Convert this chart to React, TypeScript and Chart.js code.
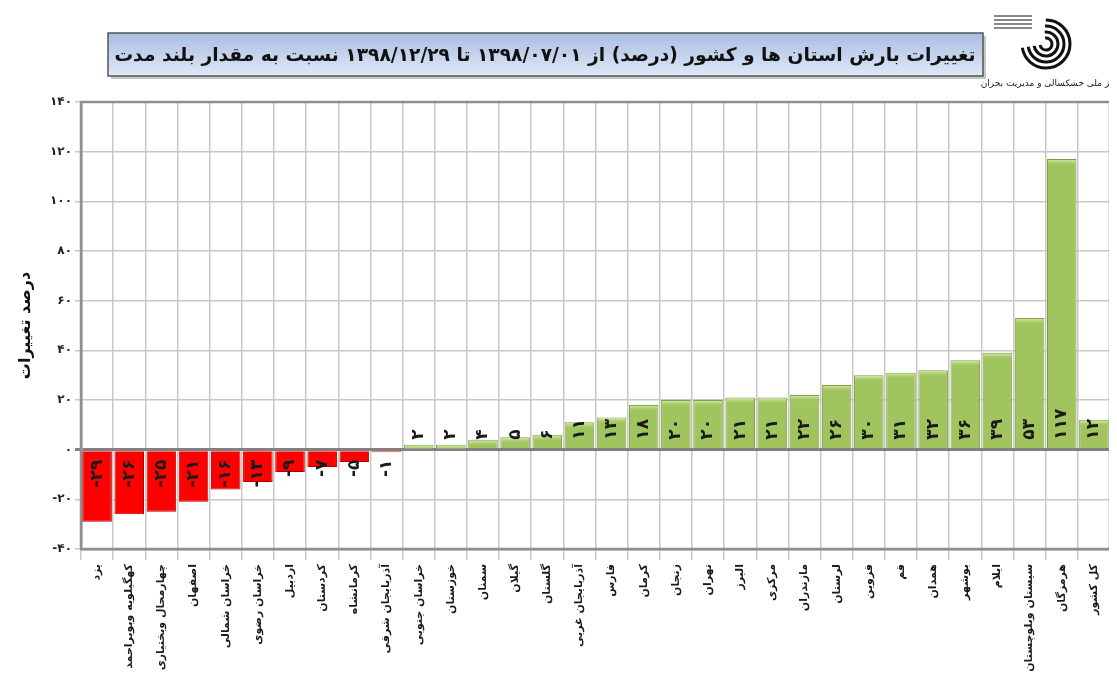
import React, { useEffect, useRef } from "react";
import { Chart, registerables } from "chart.js";

Chart.register(...registerables);

const categories = [
  "یزد",
  "کهگیلویه وبویراحمد",
  "چهارمحال وبختیاری",
  "اصفهان",
  "خراسان شمالی",
  "خراسان رضوی",
  "اردبیل",
  "کردستان",
  "کرمانشاه",
  "آذربایجان شرقی",
  "خراسان جنوبی",
  "خوزستان",
  "سمنان",
  "گیلان",
  "گلستان",
  "آذربایجان غربی",
  "فارس",
  "کرمان",
  "زنجان",
  "تهران",
  "البرز",
  "مرکزی",
  "مازندران",
  "لرستان",
  "قزوین",
  "قم",
  "همدان",
  "بوشهر",
  "ایلام",
  "سیستان وبلوچستان",
  "هرمزگان",
  "کل کشور",
];

const changePercent = [
  -29, -26, -25, -21, -16, -13, -9, -7, -5, -1, 2, 2, 4, 5, 6, 11, 13, 18, 20,
  20, 21, 21, 22, 26, 30, 31, 32, 36, 39, 53, 117, 12,
];

const yTickValues = [-40, -20, 0, 20, 40, 60, 80, 100, 120, 140];

const titleText =
  "تغییرات بارش استان ها و کشور (درصد) از ۱۳۹۸/۰۷/۰۱ تا ۱۳۹۸/۱۲/۲۹ نسبت به مقدار بلند مدت";
const yAxisTitle = "درصد تغییرات";
const orgName = "مرکز ملی خشکسالی و مدیریت بحران";

const FA_DIGITS = "۰۱۲۳۴۵۶۷۸۹";
const toFa = (v: number | string) =>
  String(v).replace(/\d/g, (d) => FA_DIGITS[Number(d)]);

const FONT = '"DejaVu Sans", sans-serif';

const decorPlugin = {
  id: "decor",
  beforeDraw(chart: any) {
    const ctx = chart.ctx;
    ctx.save();
    ctx.fillStyle = "#ffffff";
    ctx.fillRect(0, 0, chart.width, chart.height);

    // title box shadow
    ctx.fillStyle = "rgba(0,0,0,0.22)";
    ctx.fillRect(111, 36, 875, 43);
    // title box
    const g = ctx.createLinearGradient(0, 33, 0, 76);
    g.addColorStop(0, "#a9bde2");
    g.addColorStop(1, "#e0e8f5");
    ctx.fillStyle = g;
    ctx.fillRect(108, 33, 875, 43);
    ctx.strokeStyle = "#555555";
    ctx.lineWidth = 1.5;
    ctx.strokeRect(108, 33, 875, 43);

    // title text
    ctx.direction = "rtl";
    ctx.textAlign = "center";
    ctx.textBaseline = "middle";
    let fs = 18;
    ctx.font = `bold ${fs}px ${FONT}`;
    const w = ctx.measureText(titleText).width;
    fs = Math.min(22, (fs * 862) / w);
    ctx.font = `bold ${fs}px ${FONT}`;
    ctx.fillStyle = "#111111";
    ctx.fillText(titleText, 545, 56);

    // logo (concentric arcs)
    ctx.strokeStyle = "#111111";
    ctx.lineWidth = 3;
    const cx = 1046;
    const cy = 44;
    [6, 12, 18, 24].forEach((r, i) => {
      ctx.beginPath();
      ctx.arc(cx, cy, r, -Math.PI * 0.55 + i * 0.05, Math.PI * 0.95);
      ctx.stroke();
    });
    ctx.lineWidth = 1;
    [16, 20, 24, 28].forEach((yy) => {
      ctx.beginPath();
      ctx.moveTo(994, yy);
      ctx.lineTo(1032, yy);
      ctx.stroke();
    });
    ctx.font = `9px ${FONT}`;
    ctx.textAlign = "right";
    ctx.fillStyle = "#222222";
    ctx.fillText(orgName, 1124, 84);
    ctx.restore();
  },
  beforeDatasetsDraw(chart: any) {
    const { ctx, chartArea } = chart;
    ctx.save();
    ctx.strokeStyle = "#8f8f8f";
    ctx.lineWidth = 2.5;
    ctx.strokeRect(
      chartArea.left,
      chartArea.top,
      chartArea.right - chartArea.left,
      chartArea.bottom - chartArea.top
    );
    ctx.restore();
  },
  afterDatasetsDraw(chart: any) {
    const { ctx } = chart;
    const meta = chart.getDatasetMeta(0);
    const zeroY = chart.scales.y.getPixelForValue(0);
    ctx.save();
    // bevel highlight on green bars
    meta.data.forEach((bar: any, i: number) => {
      const v = changePercent[i];
      if (v > 0) {
        const half = bar.width / 2;
        const hg = ctx.createLinearGradient(0, bar.y, 0, bar.y + 6);
        hg.addColorStop(0, "rgba(235,245,210,0.95)");
        hg.addColorStop(1, "rgba(170,205,100,0)");
        ctx.fillStyle = hg;
        ctx.fillRect(bar.x - half + 1, bar.y + 1, bar.width - 2, Math.min(6, zeroY - bar.y - 1));
      }
    });
    // value labels
    ctx.font = `bold 17px ${FONT}`;
    ctx.fillStyle = "#1a1a1a";
    ctx.textAlign = "center";
    ctx.textBaseline = "middle";
    ctx.direction = "ltr";
    meta.data.forEach((bar: any, i: number) => {
      const v = changePercent[i];
      const txt = toFa(v);
      const w = ctx.measureText(txt).width;
      const cy = v >= 0 ? zeroY - 10 - w / 2 : zeroY + 10 + w / 2;
      ctx.save();
      ctx.translate(bar.x, cy);
      ctx.rotate(-Math.PI / 2);
      ctx.fillText(txt, 0, 0);
      ctx.restore();
    });
    ctx.restore();
  },
};

export default function App() {
  const canvasRef = useRef<HTMLCanvasElement | null>(null);

  useEffect(() => {
    if (!canvasRef.current) return;
    const chart = new Chart(canvasRef.current, {
      type: "bar",
      data: {
        labels: categories,
        datasets: [
          {
            data: changePercent,
            backgroundColor: changePercent.map((v) => (v < 0 ? "#ff0000" : "#a0c55e")),
            borderColor: changePercent.map((v) => (v < 0 ? "#b40000" : "#7e9f45")),
            borderWidth: 1,
            barPercentage: 0.92,
            categoryPercentage: 1,
          },
        ],
      },
      options: {
        animation: false,
        responsive: false,
        layout: { padding: { top: 102, right: 7, left: 0, bottom: 0 } },
        plugins: {
          legend: { display: false },
          tooltip: { enabled: false },
          title: { display: false },
        },
        scales: {
          x: {
            afterFit: (scale: any) => {
              scale.height = 132;
            },
            grid: {
              color: "#c8c8c8",
              lineWidth: 1.5,
              offset: true,
              tickLength: 11,
            },
            border: { display: true, color: "#8f8f8f", width: 2.5 },
            ticks: {
              autoSkip: false,
              minRotation: 90,
              maxRotation: 90,
              padding: 4,
              color: "#1a1a1a",
              font: { family: FONT, size: 11, weight: "bold" },
            },
          },
          y: {
            min: -40,
            max: 140,
            afterFit: (scale: any) => {
              scale.width = 81;
            },
            afterBuildTicks: (scale: any) => {
              scale.ticks = yTickValues.map((v) => ({ value: v }));
            },
            grid: {
              color: (c: any) => (c.tick && c.tick.value === 0 ? "#808080" : "#c8c8c8"),
              lineWidth: (c: any) => (c.tick && c.tick.value === 0 ? 3 : 1.5),
              tickLength: 6,
            },
            border: { display: true, color: "#8f8f8f", width: 2.5 },
            title: {
              display: true,
              text: yAxisTitle,
              color: "#111111",
              font: { family: FONT, size: 16, weight: "bold" },
              padding: { top: 16, bottom: 0 },
            },
            ticks: {
              padding: 3,
              color: "#222222",
              font: { family: FONT, size: 12, weight: "bold" },
              callback: (v: any) => toFa(v),
            },
          },
        },
      },
      plugins: [decorPlugin],
    });
    return () => chart.destroy();
  }, []);

  return (
    <div style={{ position: "relative", margin: "-8px", width: 1117, height: 681 }}>
      <canvas ref={canvasRef} width={1117} height={681} style={{ display: "block" }} />
    </div>
  );
}
